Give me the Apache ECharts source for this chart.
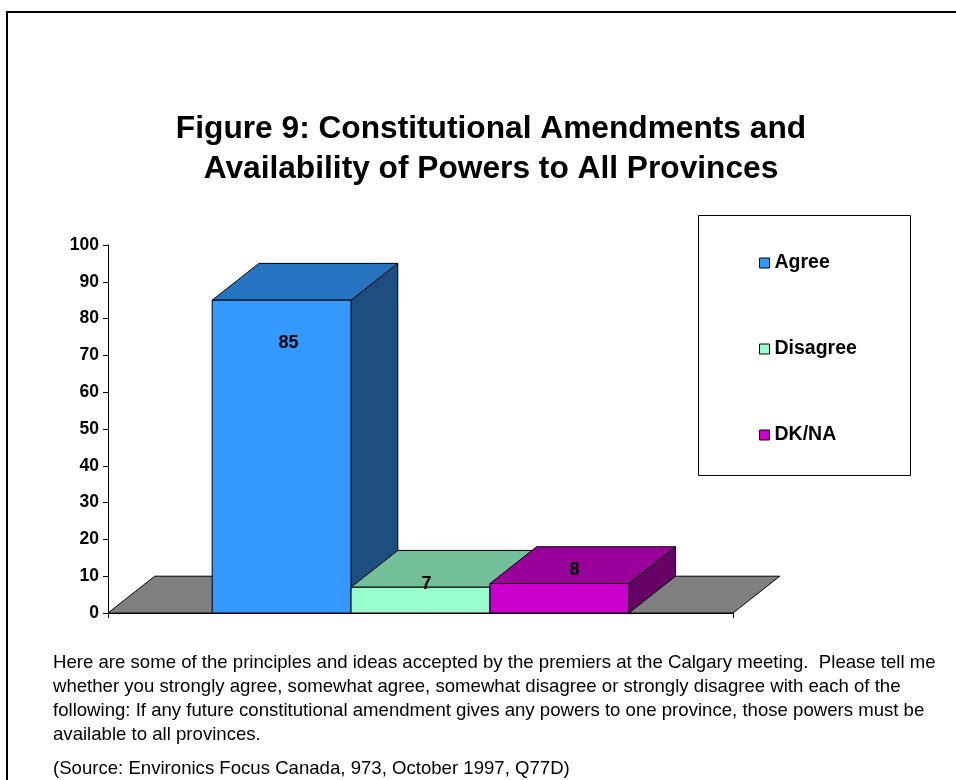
<!DOCTYPE html>
<html><head><meta charset="utf-8">
<script src="https://cdn.jsdelivr.net/npm/echarts@6/dist/echarts.min.js"></script>
<style>html,body{margin:0;padding:0;background:#fff}#c{width:956px;height:780px}</style>
</head><body><div id="c"></div>
<script>
const categories = [''];
const seriesNames = ['Agree', 'Disagree', 'DK/NA'];
const agreeValues = [85];
const disagreeValues = [7];
const dknaValues = [8];
const yTicks = [0, 10, 20, 30, 40, 50, 60, 70, 80, 90, 100];

const FONT = 'Liberation Sans, Arial, sans-serif';
const faceColors = [
  {front: '#3399FF', top: '#2673C0', side: '#1C4E80'},
  {front: '#99FFCC', top: '#73BF99', side: '#4C8066'},
  {front: '#CC00CC', top: '#990099', side: '#660066'}
];
// label offsets (pixels) relative to front-top centre
const labelOffsets = [[7, 43], [6, -3], [15, -14]];

function depth(api) {
  const dy = api.size([0, 10])[1];
  return [dy * 1.27, dy];
}

function floorRender(params, api) {
  const c0 = api.coord([0, 0]);
  const band = api.size([1, 0])[0];
  const [dx, dy] = depth(api);
  const xl = c0[0] - band / 2, xr = c0[0] + band / 2, yb = c0[1];
  return {
    type: 'polygon',
    shape: {points: [[xl, yb], [xr, yb], [xr + dx, yb - dy], [xl + dx, yb - dy]]},
    style: {fill: '#808080', stroke: '#000', lineWidth: 1}
  };
}

function barRender(i) {
  return function (params, api) {
    const v = api.value(1);
    const c0 = api.coord([0, 0]);
    const band = api.size([1, 0])[0];
    const bw = band / 4.5;
    const x0 = c0[0] - 1.5 * bw + i * bw, x1 = x0 + bw;
    const yb = c0[1];
    const yt = api.coord([0, v])[1];
    const [dx, dy] = depth(api);
    const col = faceColors[i];
    const st = (f) => ({fill: f, stroke: '#000', lineWidth: 1});
    return {
      type: 'group',
      children: [
        {type: 'polygon', shape: {points: [[x1, yb], [x1 + dx, yb - dy], [x1 + dx, yt - dy], [x1, yt]]}, style: st(col.side)},
        {type: 'polygon', shape: {points: [[x0, yt], [x1, yt], [x1 + dx, yt - dy], [x0 + dx, yt - dy]]}, style: st(col.top)},
        {type: 'polygon', shape: {points: [[x0, yb], [x1, yb], [x1, yt], [x0, yt]]}, style: st(col.front)},
        {type: 'text', x: (x0 + x1) / 2 + labelOffsets[i][0], y: yt + labelOffsets[i][1],
          style: {text: String(v), fill: '#000', font: 'bold 18px ' + FONT, align: 'center', verticalAlign: 'middle'}}
      ]
    };
  };
}

const valueSets = [agreeValues, disagreeValues, dknaValues];
const series = [{
  type: 'custom', name: 'floor', z: 1, silent: true,
  renderItem: floorRender,
  data: categories.map((c, k) => [k, 0])
}];
seriesNames.forEach((n, i) => {
  series.push({
    type: 'custom', name: n, z: 2 + i,
    renderItem: barRender(i),
    itemStyle: {color: faceColors[i].front},
    data: valueSets[i].map((v, k) => [k, v])
  });
});

const chart = echarts.init(document.getElementById('c'), null, {renderer: 'canvas'});
chart.setOption({
  animation: false,
  backgroundColor: '#fff',
  title: {
    text: 'Figure 9: Constitutional Amendments and\nAvailability of Powers to All Provinces',
    left: 491, top: 109, textAlign: 'center', padding: 0,
    textStyle: {fontFamily: FONT, fontWeight: 'bold', fontSize: 31.7, lineHeight: 40, color: '#000'}
  },
  legend: {
    data: seriesNames,
    orient: 'vertical', left: 759, top: 253, padding: 0,
    itemGap: 66, itemWidth: 10, itemHeight: 10, icon: 'rect',
    itemStyle: {borderColor: '#000', borderWidth: 1},
    textStyle: {fontFamily: FONT, fontWeight: 'bold', fontSize: 19.5, lineHeight: 20, color: '#000'}
  },
  grid: {left: 108, right: 223, top: 245, bottom: 167, containLabel: false},
  xAxis: {
    type: 'category', data: categories, boundaryGap: true,
    axisLine: {show: true, lineStyle: {color: '#000', width: 1}},
    axisTick: {show: true, length: 5, lineStyle: {color: '#000'}},
    axisLabel: {show: false}
  },
  yAxis: {
    type: 'value', min: yTicks[0], max: yTicks[yTicks.length - 1], interval: 10,
    axisLine: {show: true, lineStyle: {color: '#000', width: 1}},
    axisTick: {show: true, length: 5, lineStyle: {color: '#000'}},
    splitLine: {show: false},
    axisLabel: {fontFamily: FONT, fontWeight: 'bold', fontSize: 17.5, color: '#000', margin: 9}
  },
  graphic: [
    {type: 'rect', shape: {x: 7, y: 12, width: 980, height: 800}, style: {fill: 'none', stroke: '#000', lineWidth: 2}, z: 100},
    {type: 'rect', shape: {x: 698.5, y: 215.5, width: 212, height: 260}, style: {fill: 'none', stroke: '#000', lineWidth: 1}, z: 100},
    {type: 'text', left: 53, top: 651, z: 100, style: {
      text: 'Here are some of the principles and ideas accepted by the premiers at the Calgary meeting.  Please tell me\nwhether you strongly agree, somewhat agree, somewhat disagree or strongly disagree with each of the\nfollowing: If any future constitutional amendment gives any powers to one province, those powers must be\navailable to all provinces.',
      font: '18.6px ' + FONT, lineHeight: 24, fill: '#000'}},
    {type: 'text', left: 53, top: 759, z: 100, style: {
      text: '(Source: Environics Focus Canada, 973, October 1997, Q77D)',
      font: '18.6px ' + FONT, fill: '#000'}}
  ],
  series: series
});
</script></body></html>
